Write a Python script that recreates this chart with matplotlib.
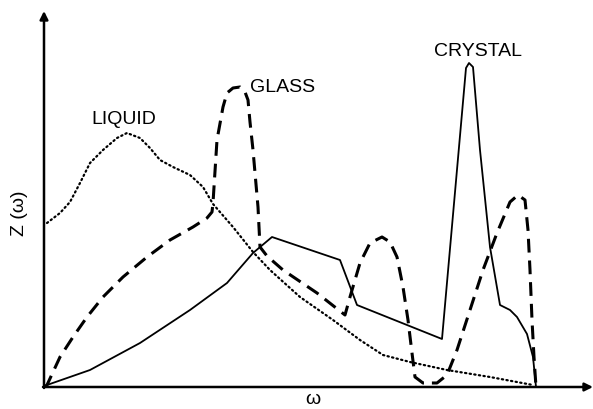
import matplotlib
matplotlib.use("Agg")
import matplotlib.pyplot as plt

plt.rcParams['font.family'] = ['Liberation Sans', 'DejaVu Sans']

# Vibrational density of states Z(omega) (arbitrary units)
liquid_w = [3, 16, 26, 36, 46, 59, 73, 83, 96, 106, 116, 129, 146, 159, 169,
            189, 209, 226, 256, 289, 316, 339, 366, 403, 446, 489]
liquid_z = [164, 174, 185, 204, 224, 237, 249, 254, 249, 239, 227, 220, 212,
            200, 183, 160, 135, 117, 90, 67, 47, 32, 25, 17, 10, 2]

glass_w = [0, 3, 16, 29, 43, 59, 79, 103, 126, 149, 163, 168, 169, 170, 173,
           179, 183, 189, 196, 201, 204, 206, 209, 214, 216, 223, 239, 273,
           301, 306, 316, 326, 338, 346, 353, 359, 364, 368, 371, 379, 393,
           403, 413, 426, 439, 453, 466, 474, 481, 484, 486, 488, 490, 492]
glass_z = [0, 2, 30, 50, 70, 90, 110, 130, 147, 160, 169, 175, 184, 200, 247,
           280, 294, 299, 300, 295, 287, 265, 237, 180, 140, 131, 117, 94,
           72, 90, 124, 144, 150, 145, 130, 100, 67, 34, 10, 4, 4,
           12, 37, 77, 117, 154, 185, 192, 187, 157, 117, 67, 30, 0]

crystal_w = [0, 3, 46, 96, 146, 183, 209, 228, 296, 313, 398, 422, 425, 429,
             436, 446, 456, 466, 473, 483, 489, 492]
crystal_z = [0, 2, 17, 44, 77, 104, 134, 150, 127, 82, 48, 319, 324, 320,
             237, 140, 82, 77, 70, 53, 30, 0]

labels = {"LIQUID": (80, 267), "GLASS": (206, 299), "CRYSTAL": (434, 335)}

fig = plt.figure(figsize=(5.93, 4.09), dpi=100)
ax = fig.add_axes([0, 0, 1, 1])
ax.set_xlim(-44, 549)
ax.set_ylim(-22, 387)
ax.axis('off')

ax.plot(liquid_w, liquid_z, color='black', lw=1.6,
        linestyle=(0, (0.6, 1.5)), dash_capstyle='round')
ax.plot(glass_w, glass_z, color='black', lw=2.2,
        linestyle=(0, (4.5, 2.6)), dash_capstyle='butt')
ax.plot(crystal_w, crystal_z, color='black', lw=1.3)

# axes with arrows
ax.annotate('', xy=(549, 0), xytext=(-1, 0),
            arrowprops=dict(arrowstyle='-|>', lw=1.8, color='black',
                            mutation_scale=12, shrinkA=0, shrinkB=0))
ax.annotate('', xy=(0, 376), xytext=(0, -1),
            arrowprops=dict(arrowstyle='-|>', lw=1.8, color='black',
                            mutation_scale=12, shrinkA=0, shrinkB=0))

fs = 14
ax.text(labels["LIQUID"][0], labels["LIQUID"][1], "LIQUID", fontsize=fs,
        ha='center', va='center')
ax.text(labels["GLASS"][0], labels["GLASS"][1], "GLASS", fontsize=fs,
        ha='left', va='center')
ax.text(labels["CRYSTAL"][0], labels["CRYSTAL"][1], "CRYSTAL", fontsize=fs,
        ha='center', va='center')
ax.text(-25, 174, "Z (ω)", fontsize=fs, rotation=90, ha='center', va='center')
ax.text(269, -12, "ω", fontsize=fs, ha='center', va='center')

fig.savefig("out.png", dpi=100)
